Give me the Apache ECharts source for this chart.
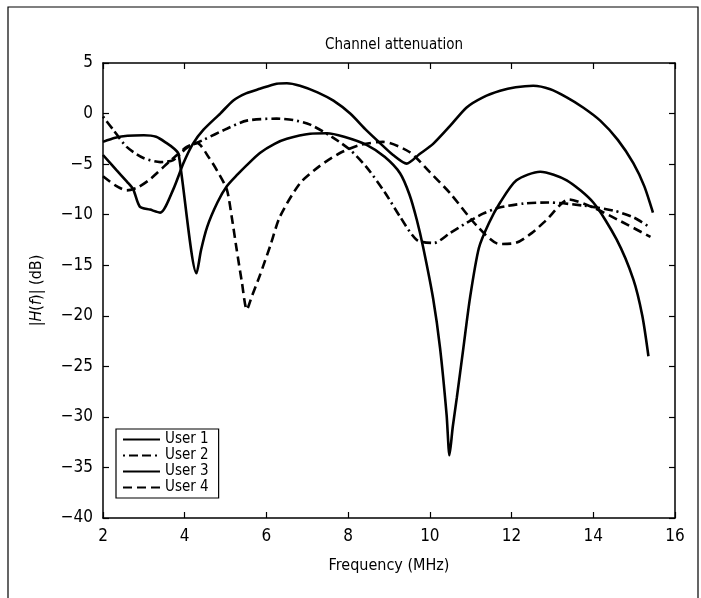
<!DOCTYPE html>
<html><head><meta charset="utf-8">
<script src="https://cdn.jsdelivr.net/npm/echarts@6/dist/echarts.min.js"></script>
<style>html,body{margin:0;padding:0;background:#fff}#c{width:701px;height:598px}</style>
</head><body><div id="c"></div>
<script>
const xTicks = [2,4,6,8,10,12,14,16];
const yTicks = [5,0,-5,-10,-15,-20,-25,-30,-35,-40];
const seriesNames = ['User 1','User 2','User 3','User 4'];
const user1 = [[2,-2.8],[2.3,-2.4],[2.6,-2.2],[3.0,-2.15],[3.3,-2.3],[3.55,-2.9],[3.75,-3.5],[3.85,-4.0],[4.29,-15.8],[4.4,-13.5],[4.55,-11.2],[4.8,-8.8],[5.03,-7.2],[5.3,-6.0],[5.52,-5.1],[5.84,-3.9],[6.2,-3.0],[6.5,-2.5],[7.07,-2.0],[7.48,-1.95],[7.9,-2.3],[8.45,-3.1],[8.9,-4.3],[9.27,-5.9],[9.5,-8.0],[9.68,-10.5],[9.84,-13.3],[10.08,-18.3],[10.25,-23.2],[10.41,-29.8],[10.48,-33.8],[10.56,-31],[10.66,-28.1],[10.82,-23.2],[10.98,-18.3],[11.2,-13.3],[11.45,-10.8],[11.72,-8.8],[12.12,-6.6],[12.7,-5.75],[13.35,-6.6],[14.0,-8.8],[14.57,-12.45],[14.98,-16.4],[15.2,-20],[15.35,-24]];
const user2 = [[2,-0.3],[2.25,-1.6],[2.58,-3.3],[2.99,-4.4],[3.4,-4.8],[3.72,-4.6],[4.05,-3.4],[4.46,-2.6],[5.03,-1.5],[5.52,-0.7],[6.25,-0.5],[6.66,-0.65],[7.07,-1.1],[7.6,-2.3],[8.05,-3.6],[8.45,-5.3],[8.9,-7.8],[9.27,-10.2],[9.68,-12.5],[10.1,-12.8],[10.5,-11.8],[10.9,-10.8],[11.3,-9.9],[11.7,-9.3],[12.3,-8.9],[12.9,-8.8],[13.75,-9.1],[14.5,-9.6],[15.0,-10.3],[15.4,-11.3]];
const user3 = [[2,-4.1],[2.33,-5.6],[2.6,-6.8],[2.74,-7.5],[2.9,-9.2],[3.15,-9.5],[3.4,-9.8],[3.72,-7.5],[3.97,-4.9],[4.2,-3.0],[4.46,-1.6],[4.87,0],[5.19,1.3],[5.5,2.0],[5.84,2.45],[6.25,2.95],[6.5,3.0],[6.82,2.75],[7.25,2.1],[7.64,1.27],[8.05,0.0],[8.45,-1.67],[8.8,-3.0],[9.1,-4.1],[9.43,-4.95],[9.75,-4.0],[10.08,-3.0],[10.5,-1.2],[10.9,0.6],[11.3,1.6],[11.72,2.25],[12.1,2.6],[12.53,2.75],[12.95,2.4],[13.35,1.6],[13.75,0.6],[14.17,-0.7],[14.6,-2.6],[14.98,-4.9],[15.25,-7.2],[15.46,-9.8]];
const user4 = [[2,-6.2],[2.3,-7.1],[2.58,-7.6],[2.85,-7.3],[3.15,-6.5],[3.64,-4.7],[4.05,-3.3],[4.3,-2.9],[4.6,-4.4],[4.8,-5.7],[5.03,-7.5],[5.15,-10.2],[5.27,-13.4],[5.4,-16.7],[5.52,-19.4],[5.65,-18],[5.84,-16.0],[6.1,-13],[6.33,-10.2],[6.82,-6.9],[7.3,-5.2],[7.8,-3.9],[8.3,-3.1],[8.85,-2.8],[9.5,-3.8],[10.0,-5.8],[10.5,-7.9],[11.15,-11.1],[11.7,-12.9],[12.1,-12.8],[12.5,-11.8],[12.86,-10.5],[13.4,-8.5],[14.0,-9.3],[14.6,-10.5],[15.4,-12.2]];
const allData = [user1, user2, user3, user4];
const dashes = [null, [2,4,9,4,9,4], null, [9,5]];

const FONT = '"DejaVu Sans Condensed", "Open Sans", sans-serif';
const chart = echarts.init(document.getElementById('c'));
const minus = v => String(v).replace('-', '\u2212');
const axisCommon = () => ({
  axisLine: {show: true, onZero: false, lineStyle: {color: '#000', width: 1.5}},
  axisTick: {show: true, inside: true, length: 6, lineStyle: {color: '#000', width: 1.2}},
  splitLine: {show: false}
});
chart.setOption({
  backgroundColor: '#fff',
  animation: false,
  title: {text: 'Channel attenuation', left: 389, textAlign: 'center', top: 33,
    textStyle: {fontFamily: FONT, fontSize: 15, fontWeight: 'normal', color: '#000'}},
  grid: {left: 103, right: 26, top: 63, bottom: 80},
  legend: {
    orient: 'vertical', left: 116, top: 429, itemWidth: 37, itemHeight: 14, itemGap: 1,
    borderColor: '#000', borderWidth: 1.2, padding: [3, 10, 3, 6], backgroundColor: '#fff',
    itemStyle: {opacity: 0},
    textStyle: {fontFamily: FONT, fontSize: 15, color: '#000'},
    data: seriesNames
  },
  xAxis: [
    Object.assign({type: 'value', min: xTicks[0], max: xTicks[xTicks.length-1], interval: 2, position: 'bottom',
      name: 'Frequency (MHz)', nameLocation: 'middle', nameGap: 40,
      nameTextStyle: {fontFamily: FONT, fontSize: 16, color: '#000'},
      axisLabel: {fontFamily: FONT, fontSize: 17, color: '#000', margin: 10, formatter: minus}}, axisCommon()),
    Object.assign({type: 'value', min: 2, max: 16, interval: 2, position: 'top', axisLabel: {show: false}}, axisCommon())
  ],
  yAxis: [
    Object.assign({type: 'value', min: yTicks[yTicks.length-1], max: yTicks[0], interval: 5, position: 'left',
      name: '{n||}{i|H}{n|(}{i|f}{n|)| (dB)}', nameLocation: 'middle', nameGap: 58, nameRotate: 90,
      nameTextStyle: {fontFamily: FONT, fontSize: 16, color: '#000',
        rich: {n: {fontFamily: FONT, fontSize: 16, color: '#000'}, i: {fontFamily: FONT, fontSize: 16, fontStyle: 'italic', color: '#000'}}},
      axisLabel: {fontFamily: FONT, fontSize: 17, color: '#000', margin: 10, formatter: minus}}, axisCommon()),
    Object.assign({type: 'value', min: -40, max: 5, interval: 5, position: 'right', axisLabel: {show: false}}, axisCommon())
  ],
  series: allData.map((d, i) => ({
    name: seriesNames[i], type: 'line', data: d, xAxisIndex: 0, yAxisIndex: 0,
    symbol: 'none', smooth: 0.25, smoothMonotone: 'none',
    lineStyle: {color: '#000', width: 2.6, type: dashes[i] || 'solid'},
    itemStyle: {color: '#000'}
  })),
  graphic: [{type: 'rect', shape: {x: 8, y: 7, width: 690, height: 600}, style: {fill: 'none', stroke: '#000', lineWidth: 1.2}, silent: true}]
});
</script></body></html>
